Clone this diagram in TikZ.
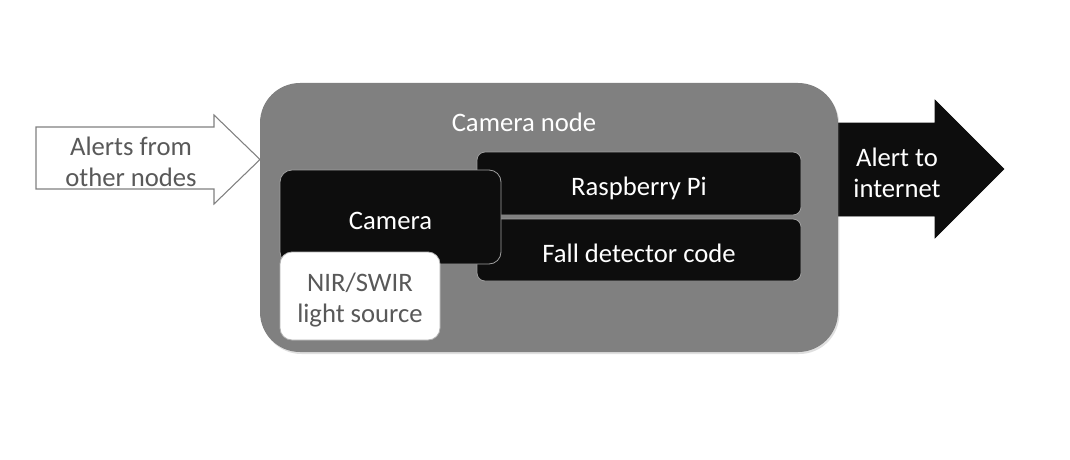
\documentclass[tikz,border=0pt]{standalone}
\usepackage{fontspec}
\setmainfont{Carlito}
\usetikzlibrary{shadows}

\definecolor{nodegray}{HTML}{808080}
\definecolor{nearblack}{HTML}{0D0D0D}
\definecolor{labelgray}{HTML}{595959}

\tikzset{
  outerbox/.style={fill=nodegray,rounded corners=30pt,minimum width=433.5pt,minimum height=201.75pt,inner sep=0pt,
    drop shadow={opacity=0.25,shadow xshift=1pt,shadow yshift=-1.5pt}},
  blackbox/.style={draw=gray!75,line width=0.6pt,fill=nearblack,text=white,rounded corners=6pt,inner sep=0pt,text height=18.5pt,text depth=0pt},
  whitebox/.style={draw=gray!60,line width=0.6pt,fill=white,rounded corners=9pt,inner sep=0pt},
  arrowtext/.style={align=center,inner sep=0pt}
}

\begin{document}
\begin{tikzpicture}[x=0.75pt,y=-0.75pt,font=\fontsize{20}{23}\selectfont]
      \useasboundingbox (0,0) rectangle (1070,460);

      % arrows in and out
      \filldraw[fill=white,draw=nodegray,line width=0.8pt] (36,127) -- (214,127) -- (214,115) -- (260,159.5) -- (214,204) -- (214,189) -- (36,189) -- cycle;
      \filldraw[fill=nearblack,draw=nearblack] (820,123) -- (935,123) -- (935,100) -- (1004,169) -- (935,238) -- (935,216) -- (820,216) -- cycle;
      \node[arrowtext,text=labelgray] (alertsin) at (131,162) {Alerts from\\other nodes};
      \node[arrowtext,text=white] (alertout) at (897,173) {Alert to\\internet};

      \node[outerbox] (camnode) at (549,217.5) {};
      \node[text=white] (camtitle) at (524,122) {Camera node};

      \node[blackbox,minimum width=243pt,minimum height=47.25pt] (raspi) at (639,183.5) {Raspberry Pi};
      \node[blackbox,minimum width=243pt,minimum height=46.5pt] (falldet) at (639,250) {Fall detector code};
      \node[blackbox,rounded corners=9pt,minimum width=165.75pt,minimum height=70.5pt] (camera) at (390.5,217) {Camera};
      \node[whitebox,minimum width=120pt,minimum height=66pt] (light) at (360,296) {};
      \node[arrowtext,text=labelgray] (lighttext) at (360,300) {NIR/SWIR\\light source};
   \end{tikzpicture}
\end{document}
